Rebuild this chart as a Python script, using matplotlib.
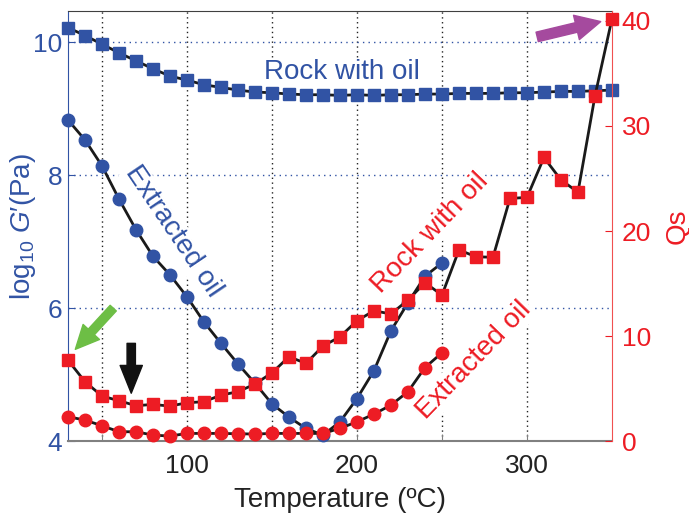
import numpy as np
import matplotlib
matplotlib.use('Agg')
import matplotlib.pyplot as plt

plt.rcParams['font.family'] = ['Liberation Sans', 'DejaVu Sans']
plt.rcParams['mathtext.fontset'] = 'custom'
plt.rcParams['mathtext.rm'] = 'Liberation Sans'
plt.rcParams['mathtext.it'] = 'Liberation Sans:italic'

BLUE = '#3153a4'
RED = '#ed1c24'
FS = 19
FS_TXT = 20

# temperatures (C)
temp_rock = [30, 40, 50, 60, 70, 80, 90, 100, 110, 120, 130, 140, 150, 160, 170, 180,
             190, 200, 210, 220, 230, 240, 250, 260, 270, 280, 290, 300, 310, 320, 330, 340, 350]
temp_ext = [30, 40, 50, 60, 70, 80, 90, 100, 110, 120, 130, 140, 150, 160, 170, 180,
            190, 200, 210, 220, 230, 240, 250]

# log10 G' (Pa)
logG_rock = [10.22, 10.10, 9.97, 9.84, 9.72, 9.60, 9.49, 9.43, 9.36, 9.32, 9.28,
             9.25, 9.24, 9.22, 9.21, 9.21, 9.20, 9.21, 9.20, 9.21, 9.21, 9.22,
             9.22, 9.23, 9.23, 9.23, 9.24, 9.24, 9.25, 9.26, 9.26, 9.27, 9.28]
logG_ext = [8.83, 8.53, 8.14, 7.64, 7.18, 6.78, 6.50, 6.17, 5.79, 5.47, 5.16, 4.87,
            4.56, 4.36, 4.19, 4.09, 4.29, 4.64, 5.06, 5.66, 6.08, 6.48, 6.68]

# Qs
qs_rock = [7.7, 5.65, 4.29, 3.84, 3.37, 3.49, 3.33, 3.65, 3.75, 4.38, 4.7,
           5.43, 6.5, 8.03, 7.4, 9.05, 9.93, 11.46, 12.41, 12.1, 13.43, 15.08,
           13.9, 18.2, 17.55, 17.5, 23.1, 23.2, 27.0, 24.86, 23.7, 32.86, 40.2]
qs_ext = [2.32, 2.0, 1.46, 0.89, 0.89, 0.57, 0.48, 0.73, 0.73, 0.73, 0.70, 0.67,
          0.73, 0.73, 0.73, 0.73, 1.21, 1.84, 2.57, 3.43, 4.7, 7.0, 8.41]

xticks = [50, 100, 150, 200, 250, 300]
xticklabels = ['', '100', '', '200', '', '300']
yticks_left = [4, 6, 8, 10]
yticks_right = [0, 10, 20, 30, 40]

fig = plt.figure(figsize=(6.89, 5.22), dpi=100)
ax = fig.add_axes([0.0987, 0.155, 0.7895, 0.824])
ax2 = ax.twinx()

ax.set_xlim(30, 350)
ax.set_ylim(4, 10.47)
ax2.set_ylim(0, 40.95)

# grid
for t in xticks:
    ax.axvline(t, color='#222222', linestyle=(0, (1, 2.5)), linewidth=1.0, zorder=0.5)
for v in yticks_left[1:]:
    ax.axhline(v, color=BLUE, linestyle=(0, (1, 3)), linewidth=1.0, zorder=0.5)

lkw = dict(color='#1a1a1a', linewidth=2, markersize=9, clip_on=False, zorder=3)
ax.plot(temp_rock, logG_rock, marker='s', markerfacecolor=BLUE, markeredgecolor=BLUE, **lkw)
ax.plot(temp_ext, logG_ext, marker='o', markerfacecolor=BLUE, markeredgecolor=BLUE, **lkw)
ax2.plot(temp_rock, qs_rock, marker='s', markerfacecolor=RED, markeredgecolor=RED, **lkw)
ax2.plot(temp_ext, qs_ext, marker='o', markerfacecolor=RED, markeredgecolor=RED, **lkw)

bb = dict(facecolor='white', edgecolor='none', pad=1)
ax.text(191, 9.55, 'Rock with oil', color=BLUE, fontsize=FS_TXT, ha='center', va='center',
        bbox=bb, zorder=2)
ax.text(92, 7.15, 'Extracted oil', color=BLUE, fontsize=FS_TXT, ha='center', va='center',
        rotation=-56, rotation_mode='anchor', bbox=bb, zorder=2)
ax.text(243, 7.13, 'Rock with oil', color=RED, fontsize=FS_TXT, ha='center', va='center',
        rotation=46, rotation_mode='anchor', bbox=bb, zorder=2)
ax.text(269, 5.22, 'Extracted oil', color=RED, fontsize=FS_TXT, ha='center', va='center',
        rotation=46, rotation_mode='anchor', bbox=bb, zorder=2)

# arrows
ax.annotate('', xy=(34.3, 5.38), xytext=(56.6, 6.0),
            arrowprops=dict(width=6, headwidth=16, headlength=17, color='#6dbe45', shrink=0),
            zorder=4, annotation_clip=False)
ax.annotate('', xy=(67.2, 4.72), xytext=(67.2, 5.47),
            arrowprops=dict(width=6, headwidth=16, headlength=20, color='#111111', shrink=0),
            zorder=4, annotation_clip=False)
ax.annotate('', xy=(343.4, 10.31), xytext=(306, 10.08),
            arrowprops=dict(width=7, headwidth=18, headlength=18, color='#a54a9e', shrink=0),
            zorder=4, annotation_clip=False)

# axes styling
ax.set_xticks(xticks, xticklabels)
ax.set_yticks(yticks_left)
ax2.set_yticks(yticks_right)
ax.tick_params(axis='x', direction='in', length=5, labelsize=FS, colors='#222222', pad=9)
ax.tick_params(axis='y', direction='in', length=5, labelsize=FS, colors=BLUE, pad=4,
               right=False)
ax2.tick_params(axis='y', direction='in', length=5, labelsize=FS, colors=RED, pad=7)
ax.tick_params(axis='x', colors='#808080', labelcolor='#222222')

ax.spines['left'].set_color(BLUE)
ax.spines['bottom'].set_color('#808080')
ax.spines['bottom'].set_linewidth(1.5)
ax.spines['top'].set_color('#404040')
for s in ['left', 'bottom', 'top']:
    ax2.spines[s].set_visible(False)
ax.spines['right'].set_visible(False)
ax2.spines['right'].set_color('#f05050')

ax.set_xlabel('Temperature (ºC)', fontsize=FS_TXT, color='#222222', labelpad=7)
ax.set_ylabel(r'log$_{10}$ $G$′(Pa)', fontsize=FS_TXT, color=BLUE)
ax.yaxis.set_label_coords(-0.056, 0.5)
ax2.set_ylabel('Qs', fontsize=FS_TXT, color=RED)
ax2.yaxis.set_label_coords(1.096, 0.5)

plt.savefig('out.png', dpi=100)
